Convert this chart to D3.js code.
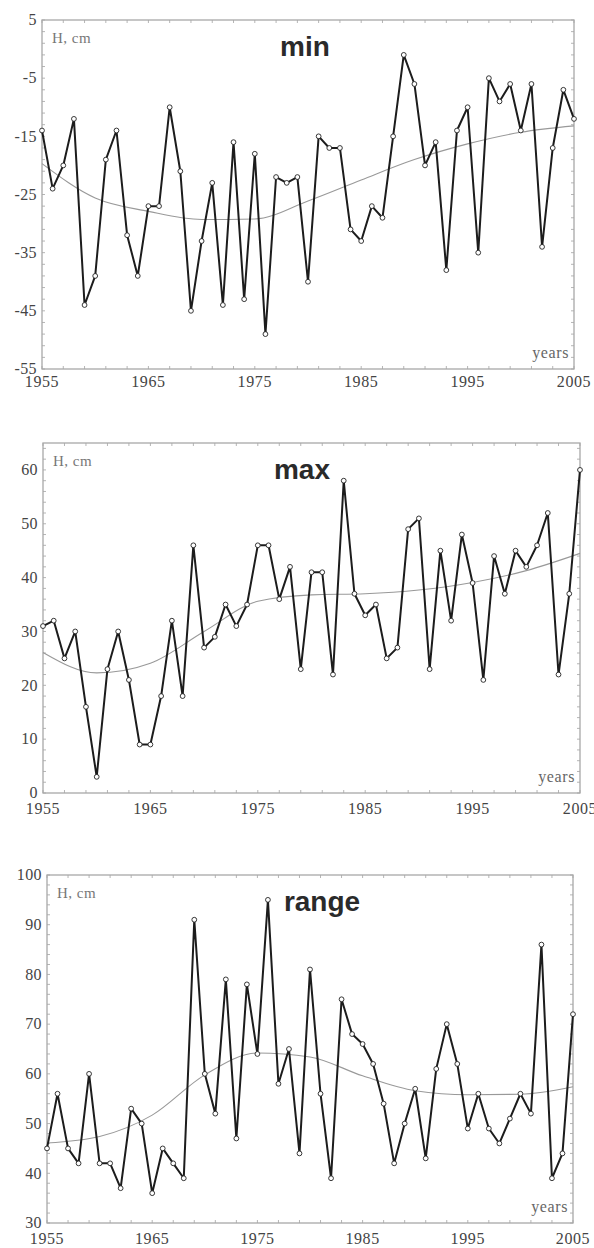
<!DOCTYPE html>
<html>
<head>
<meta charset="utf-8">
<script src="https://cdn.jsdelivr.net/npm/d3@7"></script>
<style>
  body { margin: 0; background: #fff; }
  svg { display: block; }
</style>
</head>
<body>
<svg id="chart" width="594" height="1248"></svg>
<script>
// data
const years = [1955, 1956, 1957, 1958, 1959, 1960, 1961, 1962, 1963, 1964,
  1965, 1966, 1967, 1968, 1969, 1970, 1971, 1972, 1973, 1974,
  1975, 1976, 1977, 1978, 1979, 1980, 1981, 1982, 1983, 1984,
  1985, 1986, 1987, 1988, 1989, 1990, 1991, 1992, 1993, 1994,
  1995, 1996, 1997, 1998, 1999, 2000, 2001, 2002, 2003, 2004, 2005];

const minValues = [-14, -24, -20, -12, -44, -39, -19, -14, -32, -39,
  -27, -27, -10, -21, -45, -33, -23, -44, -16, -43,
  -18, -49, -22, -23, -22, -40, -15, -17, -17, -31,
  -33, -27, -29, -15, -1, -6, -20, -16, -38, -14,
  -10, -35, -5, -9, -6, -14, -6, -34, -17, -7, -12];

const maxValues = [31, 32, 25, 30, 16, 3, 23, 30, 21, 9,
  9, 18, 32, 18, 46, 27, 29, 35, 31, 35,
  46, 46, 36, 42, 23, 41, 41, 22, 58, 37,
  33, 35, 25, 27, 49, 51, 23, 45, 32, 48,
  39, 21, 44, 37, 45, 42, 46, 52, 22, 37, 60];

const rangeValues = [45, 56, 45, 42, 60, 42, 42, 37, 53, 50,
  36, 45, 42, 39, 91, 60, 52, 79, 47, 78,
  64, 95, 58, 65, 44, 81, 56, 39, 75, 68,
  66, 62, 54, 42, 50, 57, 43, 61, 70, 62,
  49, 56, 49, 46, 51, 56, 52, 86, 39, 44, 72];

// smoothed trend, read every 5 years
const trendYears = [1955, 1960, 1965, 1970, 1975, 1980, 1985, 1990, 1995, 2000, 2005];
const minTrend = [-19.7, -25.6, -27.9, -29.3, -29.2, -26.1, -22.5, -19, -16.3, -14.3, -13.2];
const maxTrend = [26.1, 22.3, 24.1, 30, 35.6, 36.8, 37, 37.7, 39.1, 41.3, 44.5];
const rangeTrend = [46.1, 47.4, 51.7, 59.8, 64.2, 63.4, 59.6, 56.6, 55.8, 55.9, 57.4];

const xTicks = [1955, 1965, 1975, 1985, 1995, 2005];
const minTicks = [5, -5, -15, -25, -35, -45, -55];
const maxTicks = [0, 10, 20, 30, 40, 50, 60];
const rangeTicks = [30, 40, 50, 60, 70, 80, 90, 100];

const svg = d3.select("#chart");
svg.append("rect").attr("width", 594).attr("height", 1248).attr("fill", "#fff");

const serif = "'Liberation Serif', 'DejaVu Serif', serif";

// layout for each panel (left, top, right, bottom in px)
const panels = [
  { title: "min", values: minValues, trend: minTrend, ticks: minTicks, domain: [-55, 5],
    box: [42, 20, 574, 369], titleX: 305, labelDy: 18 },
  { title: "max", values: maxValues, trend: maxTrend, ticks: maxTicks, domain: [0, 65],
    box: [43, 443, 580, 793], titleX: 302, labelDy: 21 },
  { title: "range", values: rangeValues, trend: rangeTrend, ticks: rangeTicks, domain: [30, 100],
    box: [47, 875, 573, 1223], titleX: 322, labelDy: 21 }
];

panels.forEach(p => {
  const [l, t, r, b] = p.box;
  const x = d3.scaleLinear().domain([1955, 2005]).range([l, r]);
  const y = d3.scaleLinear().domain(p.domain).range([b, t]);
  const g = svg.append("g");

  // minor ticks on all four sides, pointing inward
  const xMinor = d3.range(1955, 2006, 2);
  const yMinor = d3.range(p.domain[0], p.domain[1] + 0.01, 2);
  const tickG = g.append("g").attr("stroke", "#b5b5b5").attr("stroke-width", 1);
  xMinor.forEach(v => {
    tickG.append("line").attr("x1", x(v)).attr("x2", x(v)).attr("y1", t).attr("y2", t + 3);
    tickG.append("line").attr("x1", x(v)).attr("x2", x(v)).attr("y1", b).attr("y2", b - 3);
  });
  yMinor.forEach(v => {
    tickG.append("line").attr("x1", l).attr("x2", l + 3).attr("y1", y(v)).attr("y2", y(v));
    tickG.append("line").attr("x1", r).attr("x2", r - 3).attr("y1", y(v)).attr("y2", y(v));
  });

  // frame
  g.append("rect")
    .attr("x", l).attr("y", t).attr("width", r - l).attr("height", b - t)
    .attr("fill", "none").attr("stroke", "#a8a8a8").attr("stroke-width", 1.3);

  // tick labels
  g.selectAll(".xl").data(xTicks).enter().append("text")
    .attr("x", d => x(d)).attr("y", b + p.labelDy)
    .attr("text-anchor", "middle")
    .attr("font-family", serif).attr("font-size", 16).attr("letter-spacing", 0.6)
    .attr("fill", "#444").text(d => d);

  g.selectAll(".yl").data(p.ticks).enter().append("text")
    .attr("x", l - 5).attr("y", d => y(d)).attr("dy", "0.33em")
    .attr("text-anchor", "end")
    .attr("font-family", serif).attr("font-size", 16).attr("letter-spacing", 0.4)
    .attr("fill", "#444").text(d => d);

  g.append("text").attr("x", l + 10).attr("y", t + 23)
    .attr("font-family", serif).attr("font-size", 15).attr("letter-spacing", 0.5)
    .attr("fill", "#777").text("H, cm");

  g.append("text").attr("x", r - 5).attr("y", b - 11)
    .attr("text-anchor", "end")
    .attr("font-family", serif).attr("font-size", 16).attr("letter-spacing", 0.6)
    .attr("fill", "#666").text("years");

  g.append("text").attr("x", p.titleX).attr("y", t + 36)
    .attr("text-anchor", "middle")
    .attr("font-family", "'Liberation Sans', Arial, sans-serif")
    .attr("font-weight", "bold").attr("font-size", 28)
    .attr("fill", "#2a2a2a").text(p.title);

  // smoothed trend
  const trendLine = d3.line()
    .x((d, i) => x(trendYears[i])).y(d => y(d))
    .curve(d3.curveMonotoneX);
  g.append("path").attr("d", trendLine(p.trend))
    .attr("fill", "none").attr("stroke", "#999").attr("stroke-width", 1.1);

  // series
  const line = d3.line().x((d, i) => x(years[i])).y(d => y(d));
  g.append("path").attr("d", line(p.values))
    .attr("fill", "none").attr("stroke", "#1c1c1c").attr("stroke-width", 2)
    .attr("stroke-linejoin", "round");

  g.selectAll("circle").data(p.values).enter().append("circle")
    .attr("cx", (d, i) => x(years[i])).attr("cy", d => y(d)).attr("r", 2.4)
    .attr("fill", "#fff").attr("stroke", "#222").attr("stroke-width", 0.9);
});
</script>
</body>
</html>
